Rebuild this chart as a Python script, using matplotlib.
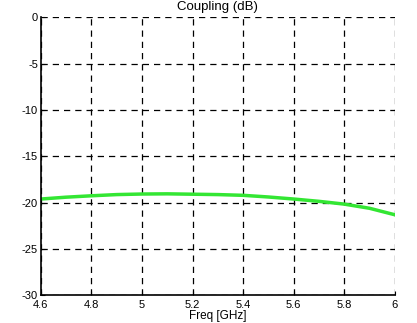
import numpy as np
import matplotlib
matplotlib.use("Agg")
import matplotlib.pyplot as plt

# Coupling curve
freq = [4.6, 4.7, 4.8, 4.9, 5.0, 5.1, 5.2, 5.3, 5.4, 5.5, 5.6, 5.7, 5.8, 5.9, 6.0]
coupling = [-19.6, -19.4, -19.25, -19.12, -19.06, -19.04, -19.08, -19.12, -19.2, -19.38, -19.6, -19.85, -20.15, -20.6, -21.3]

xticks = [4.6, 4.8, 5.0, 5.2, 5.4, 5.6, 5.8, 6.0]
xticklabels = ["4.6", "4.8", "5", "5.2", "5.4", "5.6", "5.8", "6"]
yticks = [0, -5, -10, -15, -20, -25, -30]

plt.rcParams['font.family'] = ['Liberation Sans', 'DejaVu Sans']
plt.rcParams['axes.unicode_minus'] = False

fig = plt.figure(figsize=(4.17, 3.23), dpi=100)
ax = fig.add_axes([0.098, 0.0855, 0.849, 0.8605])

ax.plot(freq, coupling, color='#33e633', linewidth=2.5)

ax.set_xlim(4.6, 6.0)
ax.set_ylim(-30, 0)
ax.set_xticks(xticks)
ax.set_xticklabels(xticklabels)
ax.set_yticks(yticks)
ax.tick_params(direction='in', length=3, labelsize=8)
ax.tick_params(axis='x', pad=3.5)
ax.tick_params(axis='y', pad=2)

ax.grid(True, color='black', linestyle=(0, (5, 4)), linewidth=0.9)
ax.spines['top'].set_visible(False)
ax.spines['right'].set_visible(False)
ax.spines['left'].set_linewidth(1.2)
ax.spines['bottom'].set_linewidth(1.2)

ax.set_title("Coupling (dB)", fontsize=9.5, pad=5)
ax.set_xlabel("Freq [GHz]", fontsize=8.5, labelpad=0)

fig.savefig("out.png", dpi=100)
